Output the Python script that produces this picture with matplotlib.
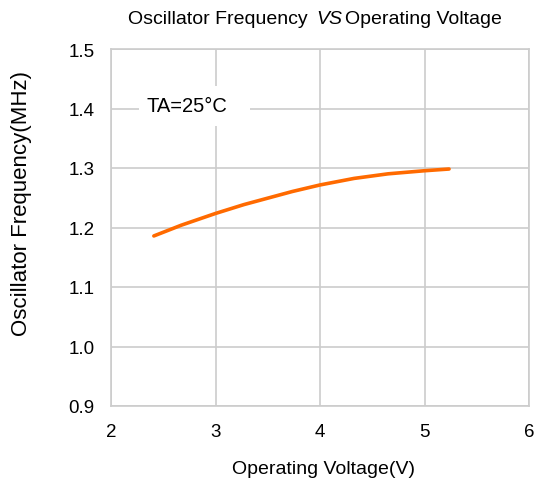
import matplotlib
matplotlib.use("Agg")
import matplotlib.pyplot as plt
from matplotlib.patches import Rectangle

plt.rcParams['font.family'] = ['Liberation Sans', 'DejaVu Sans']

voltage = [2.41, 2.673, 3.00, 3.272, 3.735, 4.00, 4.326, 4.651, 5.00, 5.235]
frequency = [1.1858, 1.2039, 1.2236, 1.2385, 1.2605, 1.2715, 1.2825, 1.2902, 1.2954, 1.2983]
xticks = [2, 3, 4, 5, 6]
yticks = [0.9, 1.0, 1.1, 1.2, 1.3, 1.4, 1.5]

W, H = 538, 485
fig = plt.figure(figsize=(W/100, H/100), dpi=100)
ax = fig.add_axes([111/W, 1 - 407/H, (529-111)/W, (407-50)/H])
ax.set_xlim(2, 6)
ax.set_ylim(0.9, 1.5)
ax.set_xticks(xticks)
ax.set_yticks(yticks)
ax.set_xticklabels([str(v) for v in xticks])
ax.set_yticklabels([f"{v:.1f}" for v in yticks])
ax.grid(True, color='#cccccc', linewidth=1.2, zorder=0)
ax.set_axisbelow(True)
for s in ax.spines.values():
    s.set_color('#cccccc')
    s.set_linewidth(1.2)
ax.tick_params(length=0, labelsize=13.5, pad=12)

ax.plot(voltage, frequency, color='#ff6a00', linewidth=2.6,
        solid_capstyle='round', solid_joinstyle='round', zorder=3)

ax.add_patch(Rectangle((2.27, 1.37), 1.06, 0.067, facecolor='white',
                       edgecolor='none', zorder=1))
ax.text(2.73, 1.405, "TA=25°C", fontsize=14.5, ha='center', va='center', zorder=2)

fig.text(323/W, 1 - 470/H, "Operating Voltage(V)", fontsize=14, ha='center', va='center')
fig.text(22/W, 1 - 203/H, "Oscillator Frequency(MHz)", fontsize=16,
         rotation=90, ha='center', va='center')

# Title with italic VS
ty = 1 - 20/H
fs = 14
t1 = fig.text(0.5, ty, "Oscillator Frequency", fontsize=fs, ha='left', va='center')
t2 = fig.text(0.5, ty, "VS", fontsize=fs, style='italic', ha='left', va='center')
t3 = fig.text(0.5, ty, "Operating Voltage", fontsize=fs, ha='left', va='center')
fig.canvas.draw()
r = fig.canvas.get_renderer()
w1 = t1.get_window_extent(r).width
w2 = t2.get_window_extent(r).width
w3 = t3.get_window_extent(r).width
g1, g2 = 9, 3
total = w1 + g1 + w2 + g2 + w3
start = 315 - total / 2
t1.set_position((start / W, ty))
t2.set_position(((start + w1 + g1) / W, ty))
t3.set_position(((start + w1 + g1 + w2 + g2) / W, ty))

fig.savefig("out.png", dpi=100)
